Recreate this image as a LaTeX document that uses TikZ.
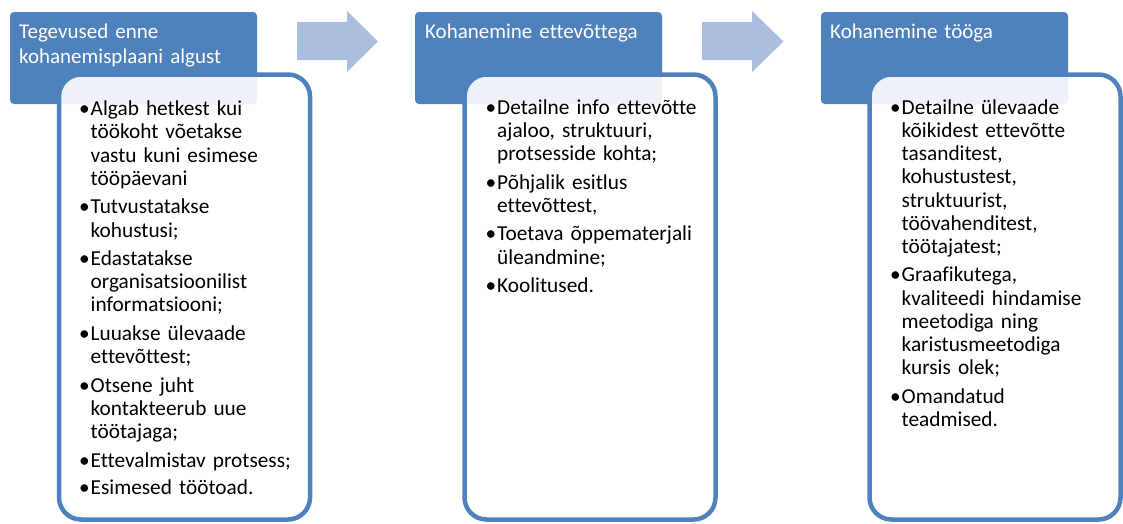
\documentclass[tikz,border=0pt]{standalone}
\usepackage{fontspec}
\setmainfont{Carlito}[Ligatures={NoCommon}]
\definecolor{hblue}{HTML}{4F81BD}
\definecolor{arrowc}{HTML}{A9BDDD}
\newcommand{\bi}[1]{\par\noindent\makebox[11.5pt][l]{\strut•}\parbox[t]{212pt}{\strut#1\strut}}
\begin{document}
\begin{tikzpicture}[x=1pt,y=-1pt,
  hdr/.style={fill=hblue, draw=none, rounded corners=4pt, anchor=north west,
    minimum width=247pt, minimum height=92pt, inner sep=0pt, outer sep=0pt},
  cbox/.style={draw=hblue, line width=4.5pt, fill=white, fill opacity=0.9, draw opacity=1,
    rounded corners=22pt, anchor=north west, minimum width=251pt, minimum height=445pt,
    inner sep=0pt, outer sep=0pt},
  htext/.style={anchor=north west, inner sep=0pt, text width=240pt, text=white,
    font=\fontsize{21}{25}\selectfont},
  ctext/.style={anchor=north west, inner sep=0pt, text width=225pt, text=black,
    font=\fontsize{21.3}{23.2}\selectfont},
  arrowshape/.style={fill=arrowc, draw=none}]
\useasboundingbox (0,0) rectangle (1123,523);
% headers
\node[hdr] (h1) at (10,12) {};
\node[hdr] (h2) at (415,12) {};
\node[hdr] (h3) at (821,12) {};
% arrows
\fill[arrowshape] (297,22) -- (347,22) -- (347,11) -- (378,41.5) -- (347,72) -- (347,60) -- (297,60) -- cycle;
\fill[arrowshape] (702,22) -- (752,22) -- (752,11) -- (783.5,41.5) -- (752,72) -- (752,60) -- (702,60) -- cycle;
% content boxes
\node[cbox] (c1) at (59,74.5) {};
\node[cbox] (c2) at (464.5,74.5) {};
\node[cbox] (c3) at (869.5,74.5) {};
% header texts
\node[htext] (t1) at (19,20.5) {\strut Tegevused enne\newline kohanemisplaani algust};
\node[htext] (t2) at (425,20.5) {\strut Kohanemine ettevõttega};
\node[htext] (t3) at (830,20.5) {\strut Kohanemine tööga};
% content texts
\node[ctext] (l1) at (79,88) {\setlength{\parskip}{4.3pt}%
\bi{Algab hetkest kui\\töökoht võetakse\\vastu kuni esimese\\tööpäevani}
\bi{Tutvustatakse\\kohustusi;}
\bi{Edastatakse\\organisatsioonilist\\informatsiooni;}
\bi{Luuakse ülevaade\\ettevõttest;}
\bi{Otsene juht\\kontakteerub uue\\töötajaga;}
\bi{Ettevalmistav protsess;}
\bi{Esimesed töötoad.}};
\node[ctext] (l2) at (485.5,86.5) {\setlength{\parskip}{4.3pt}%
\bi{Detailne info ettevõtte\\ajaloo, struktuuri,\\protsesside kohta;}
\bi{Põhjalik esitlus\\ettevõttest,}
\bi{Toetava õppematerjali\\üleandmine;}
\bi{Koolitused.}};
\node[ctext] (l3) at (890,86.5) {\setlength{\parskip}{4.3pt}%
\bi{Detailne ülevaade\\kõikidest ettevõtte\\tasanditest,\\kohustustest,\\struktuurist,\\töövahenditest,\\töötajatest;}
\bi{Graafikutega,\\kvaliteedi hindamise\\meetodiga ning\\karistusmeetodiga\\kursis olek;}
\bi{Omandatud\\teadmised.}};
\end{tikzpicture}
\end{document}
